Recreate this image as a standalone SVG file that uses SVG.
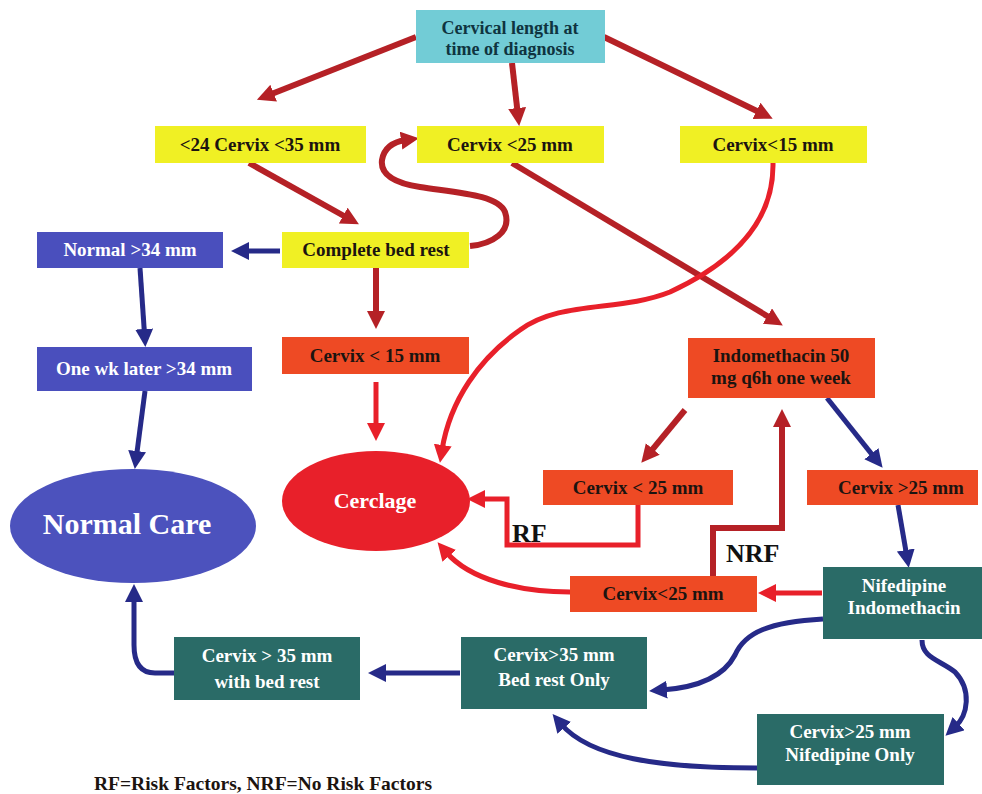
<svg xmlns="http://www.w3.org/2000/svg" width="982" height="794" viewBox="0 0 982 794">
<defs>
<style>
text{font-family:"Liberation Serif","Times New Roman",serif;font-weight:bold;text-anchor:middle}
.t{font-size:19px;fill:#1c1410}
.tc{font-size:18px;fill:#0f3440}
.tw{font-size:19px;fill:#ffffff}
.cy{fill:#72ccd6}
.ye{fill:#f0f024}
.bl{fill:#4a4fbd}
.or{fill:#ee4a24}
.te{fill:#2a6b67}
.dr{fill:none;stroke:#b52126;stroke-width:6}
.r{fill:none;stroke:#e8202a;stroke-width:5}
.n{fill:none;stroke:#262a88;stroke-width:5}
.lbl{font-size:26px;fill:#111111;text-anchor:start}
</style>
<marker id="adr" markerUnits="userSpaceOnUse" markerWidth="22" markerHeight="22" refX="5" refY="9" orient="auto"><path d="M0,0 L18,9 L0,18 z" fill="#b52126"/></marker>
<marker id="ar" markerUnits="userSpaceOnUse" markerWidth="22" markerHeight="22" refX="5" refY="9" orient="auto"><path d="M0,0 L18,9 L0,18 z" fill="#e8202a"/></marker>
<marker id="an" markerUnits="userSpaceOnUse" markerWidth="22" markerHeight="22" refX="5" refY="9" orient="auto"><path d="M0,0 L18,9 L0,18 z" fill="#262a88"/></marker>
</defs>
<rect width="982" height="794" fill="#ffffff"/>

<g id="connectors">
<path class="dr" d="M416,37 L269,95" marker-end="url(#adr)"/>
<path class="dr" d="M512,63 L517.7,113" marker-end="url(#adr)"/>
<path class="dr" d="M604,37 L761,113" marker-end="url(#adr)"/>
<path class="dr" d="M249,163 L347.6,218" marker-end="url(#adr)"/>
<path class="dr" d="M470,246 C492,244 512,232 505,212 C498,195 460,193 420,187 C395,183 380,175 382,160 C384,148 392,142 406,140" marker-end="url(#adr)"/>
<path class="dr" d="M512,163 L771.7,318.7" marker-end="url(#adr)"/>
<path class="r" d="M773,163 C774,220 735,262 670,292 C620,312 560,300 520,330 C480,358 450,400 442,450" marker-end="url(#ar)"/>
<path class="n" d="M280,251 L244,251" marker-end="url(#an)"/>
<path class="dr" d="M376,268 L376,316" marker-end="url(#adr)"/>
<path class="n" d="M140,268 L144.5,334" marker-end="url(#an)"/>
<path class="n" d="M145,391 L136.5,456" marker-end="url(#an)"/>
<path class="r" d="M376,382 L376,428" marker-end="url(#ar)"/>
<path class="dr" d="M685,410 L649.6,452.8" marker-end="url(#adr)"/>
<path class="n" d="M827,398 L874.5,457.6" marker-end="url(#an)"/>
<path class="r" d="M638,505 L638,545 L507,545 L507,499 L480,499" marker-end="url(#ar)"/>
<path class="dr" d="M713,576 L713,528 L782,528 L782,422" marker-end="url(#adr)"/>
<path class="r" d="M570,592 C520,592 470,580 446,552" marker-end="url(#ar)"/>
<path class="r" d="M822,593 L771,593" marker-end="url(#ar)"/>
<path class="n" d="M898,505 L906.6,555" marker-end="url(#an)"/>
<path class="n" d="M823,619 C770,622 745,632 735,655 C722,680 690,688 662,690" marker-end="url(#an)"/>
<path class="n" d="M922,640 C922,658 940,660 955,672 C972,690 968,715 955,727" marker-end="url(#an)"/>
<path class="n" d="M757,768 C660,768 590,758 561,724" marker-end="url(#an)"/>
<path class="n" d="M460,673 L381,673" marker-end="url(#an)"/>
<path class="n" d="M174,673 L155,673 C140,673 134,662 134,645 L134,597" marker-end="url(#an)"/>
</g>

<g id="n-top"><rect class="cy" x="416" y="10" width="189" height="53"/><text class="tc" x="510" y="34">Cervical length at</text><text class="tc" x="510" y="55">time of diagnosis</text></g>
<g id="n-2435"><rect class="ye" x="155" y="126" width="211" height="37"/><text class="t" x="260" y="151">&lt;24 Cervix &lt;35 mm</text></g>
<g id="n-lt25"><rect class="ye" x="417" y="126" width="187" height="37"/><text class="t" x="510" y="151">Cervix &lt;25 mm</text></g>
<g id="n-lt15"><rect class="ye" x="680" y="126" width="187" height="37"/><text class="t" x="773" y="151">Cervix&lt;15 mm</text></g>
<g id="n-bedrest"><rect class="ye" x="282" y="232" width="187" height="36"/><text class="t" x="376" y="256">Complete bed rest</text></g>
<g id="n-normal34"><rect class="bl" x="37" y="232" width="186" height="36"/><text class="tw" x="130" y="256">Normal &gt;34 mm</text></g>
<g id="n-onewk"><rect class="bl" x="37" y="347" width="215" height="44"/><text class="tw" x="144" y="375">One wk later &gt;34 mm</text></g>
<g id="n-normalcare"><ellipse cx="133" cy="526" rx="123" ry="57" fill="#4c52bd"/><text x="127" y="534" style="font-size:30px;fill:#ffffff">Normal Care</text></g>
<g id="n-c15"><rect class="or" x="282" y="337" width="187" height="37"/><text class="t" x="375" y="362">Cervix &lt; 15 mm</text></g>
<g id="n-cerclage"><ellipse cx="376" cy="501" rx="94" ry="50" fill="#e8202a"/><text x="375" y="508" style="font-size:22px;fill:#ffffff">Cerclage</text></g>
<g id="n-indo"><rect class="or" x="688" y="338" width="187" height="60"/><text class="t" x="781" y="362">Indomethacin 50</text><text class="t" x="781" y="384">mg q6h one week</text></g>
<g id="n-c25a"><rect class="or" x="543" y="470" width="190" height="35"/><text class="t" x="638" y="494">Cervix &lt; 25 mm</text></g>
<g id="n-c25gt"><rect class="or" x="807" y="470" width="171" height="35"/><text class="t" x="901" y="494">Cervix &gt;25 mm</text></g>
<g id="n-c25b"><rect class="or" x="570" y="576" width="187" height="36"/><text class="t" x="663" y="600">Cervix&lt;25 mm</text></g>
<g id="n-nifindo"><rect class="te" x="823" y="567" width="159" height="72"/><text class="tw" x="904" y="592">Nifedipine</text><text class="tw" x="904" y="614">Indomethacin</text></g>
<g id="n-bedrestonly"><rect class="te" x="461" y="637" width="186" height="72"/><text class="tw" x="554" y="661">Cervix&gt;35 mm</text><text class="tw" x="554" y="686">Bed rest Only</text></g>
<g id="n-withbedrest"><rect class="te" x="174" y="637" width="186" height="63"/><text class="tw" x="267" y="662">Cervix &gt; 35 mm</text><text class="tw" x="267" y="688">with bed rest</text></g>
<g id="n-nifonly"><rect class="te" x="757" y="714" width="187" height="71"/><text class="tw" x="850" y="738">Cervix&gt;25 mm</text><text class="tw" x="850" y="761">Nifedipine Only</text></g>

<text class="lbl" x="512" y="542">RF</text>
<text class="lbl" x="726" y="562">NRF</text>
<text x="94" y="790" style="font-size:19.5px;fill:#1c1410;text-anchor:start">RF=Risk Factors, NRF=No Risk Factors</text>
</svg>
